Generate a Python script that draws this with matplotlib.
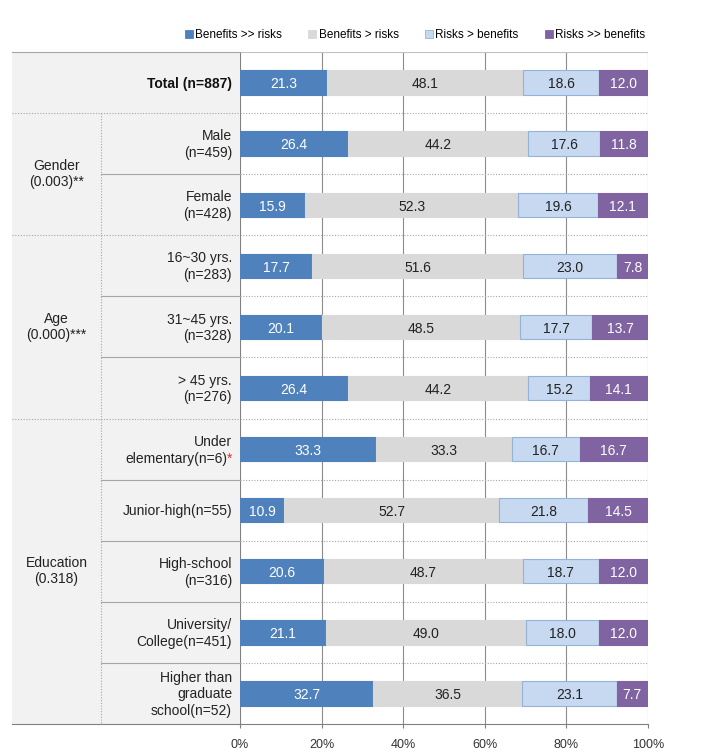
import matplotlib
matplotlib.use("Agg")
import matplotlib.pyplot as plt
from matplotlib.patches import Rectangle, Patch
from matplotlib.lines import Line2D
import numpy as np

plt.rcParams['font.family'] = ['Liberation Sans', 'DejaVu Sans']

series_names = ["Benefits >> risks", "Benefits > risks", "Risks > benefits", "Risks >> benefits"]
row_labels = ["Total (n=887)", "Male\n(n=459)", "Female\n(n=428)",
              "16~30 yrs.\n(n=283)", "31~45 yrs.\n(n=328)", "> 45 yrs.\n(n=276)",
              "Under\nelementary(n=6)", "Junior-high(n=55)", "High-school\n(n=316)",
              "University/\nCollege(n=451)", "Higher than\ngraduate\nschool(n=52)"]
group_names = ["Gender\n(0.003)**", "Age\n(0.000)***", "Education\n(0.318)"]
group_rows = [(1, 3), (3, 6), (6, 11)]

benefits_much = [21.3, 26.4, 15.9, 17.7, 20.1, 26.4, 33.3, 10.9, 20.6, 21.1, 32.7]
benefits_more = [48.1, 44.2, 52.3, 51.6, 48.5, 44.2, 33.3, 52.7, 48.7, 49.0, 36.5]
risks_more = [18.6, 17.6, 19.6, 23.0, 17.7, 15.2, 16.7, 21.8, 18.7, 18.0, 23.1]
risks_much = [12.0, 11.8, 12.1, 7.8, 13.7, 14.1, 16.7, 14.5, 12.0, 12.0, 7.7]
x_ticks = [0, 20, 40, 60, 80, 100]

colors = ["#4f81bd", "#d9d9d9", "#c6d9f1", "#8064a2"]
edgecolors = ["#4f81bd", "#d9d9d9", "#95b3d7", "#8064a2"]
textcolors = ["white", "#222222", "#222222", "white"]

W, H = 712, 753
fig = plt.figure(figsize=(W / 100, H / 100), dpi=100)

def fx(px):
    return px / W

def fy(py):
    return 1 - py / H

ax_left, ax_right, ax_top, ax_bot = 240, 648, 52, 724
ax = fig.add_axes([fx(ax_left), fy(ax_bot), fx(ax_right - ax_left), (ax_bot - ax_top) / H])

n = len(row_labels)
ypos = np.arange(n) + 0.5
data = [benefits_much, benefits_more, risks_more, risks_much]
left = np.zeros(n)
for k in range(4):
    vals = np.array(data[k])
    ax.barh(ypos, vals, left=left, height=0.4, color=colors[k], edgecolor=edgecolors[k],
            linewidth=0.8, zorder=3)
    for i in range(n):
        ax.text(left[i] + vals[i] / 2, ypos[i] + 0.03, f"{vals[i]:.1f}", ha='center', va='center',
                color=textcolors[k], fontsize=10, zorder=4)
    left += vals

ax.set_xlim(0, 100)
ax.set_ylim(n, 0)
for xv in x_ticks[1:]:
    ax.axvline(xv, color="#8c8c8c", lw=0.8, zorder=1)
for yb in range(1, n):
    ax.axhline(yb, color="#a6a6a6", lw=0.8, ls=(0, (1, 1.5)), zorder=1)
ax.axhline(0, color="#c0c0c0", lw=0.8, zorder=1)
for s in ["top", "right"]:
    ax.spines[s].set_visible(False)
ax.spines["left"].set_color("#808080")
ax.spines["bottom"].set_color("#808080")
ax.spines["left"].set_linewidth(0.8)
ax.spines["bottom"].set_linewidth(0.8)
ax.set_xticks(x_ticks)
ax.set_xticklabels([f"{v}%" for v in x_ticks], fontsize=9, color="#333333")
ax.tick_params(axis='x', length=3, color="#808080", pad=8)
ax.set_yticks([])

# label panel
panel_l, sep_x = 12, 101
row_h = (ax_bot - ax_top) / n

def row_y(r):
    return ax_top + r * row_h

fig.patches.append(Rectangle((fx(panel_l), fy(ax_bot)), fx(ax_left - panel_l), (ax_bot - ax_top) / H,
                             transform=fig.transFigure, facecolor="#f2f2f2", edgecolor="none", zorder=0))
# top line
fig.lines.append(Line2D([fx(panel_l), fx(ax_left)], [fy(ax_top)] * 2, transform=fig.transFigure,
                        color="#a6a6a6", lw=0.8))
fig.lines.append(Line2D([fx(panel_l), fx(ax_left)], [fy(ax_bot)] * 2, transform=fig.transFigure,
                        color="#808080", lw=0.8))
# group boundaries
for g0, g1 in group_rows:
    fig.lines.append(Line2D([fx(panel_l), fx(ax_left)], [fy(row_y(g0))] * 2, transform=fig.transFigure,
                            color="#a6a6a6", lw=0.8, ls=(0, (1, 1.5))))
    fig.lines.append(Line2D([fx(sep_x), fx(sep_x)], [fy(row_y(g0)), fy(row_y(g1))], transform=fig.transFigure,
                            color="#a6a6a6", lw=0.8, ls=(0, (1, 1.5))))
    for r in range(g0 + 1, g1):
        fig.lines.append(Line2D([fx(sep_x), fx(ax_left)], [fy(row_y(r))] * 2, transform=fig.transFigure,
                                color="#a6a6a6", lw=0.8))
    fig.text(fx((panel_l + sep_x) / 2), fy((row_y(g0) + row_y(g1)) / 2), group_names[g1 - g0 - 2 if False else group_rows.index((g0, g1))],
             ha='center', va='center', fontsize=10, color="#222222", linespacing=1.2)

label_x = fx(232)
for i, lab in enumerate(row_labels):
    yc = fy(row_y(i) + row_h * 0.5 + 1)
    if i == 0:
        fig.text(label_x, yc, lab, ha='right', va='center', fontsize=10, fontweight='bold', color="#111111")
    elif lab.startswith("Under"):
        lines = lab.split("\n")
        lh = 17
        fig.text(label_x, fy(row_y(i) + row_h * 0.5 - lh / 2 + 1), lines[0], ha='right', va='center',
                 fontsize=10, color="#222222")
        fig.text(label_x, fy(row_y(i) + row_h * 0.5 + lh / 2 + 1), "*", ha='right', va='center',
                 fontsize=10, color="#e03030")
        fig.text(fx(227), fy(row_y(i) + row_h * 0.5 + lh / 2 + 1), lines[1], ha='right', va='center',
                 fontsize=10, color="#222222")
    else:
        fig.text(label_x, yc, lab, ha='right', va='center', fontsize=10, color="#222222", linespacing=1.25)

handles = [Patch(facecolor=colors[k], edgecolor=edgecolors[k], lw=0.6) for k in range(4)]
fig.legend(handles, series_names, loc='center', bbox_to_anchor=(fx(415), fy(35)), ncol=4, frameon=False,
           fontsize=8.5, handlelength=0.7, handleheight=0.7, handletextpad=0.2, columnspacing=2.2)

fig.savefig("out.png", dpi=100)
